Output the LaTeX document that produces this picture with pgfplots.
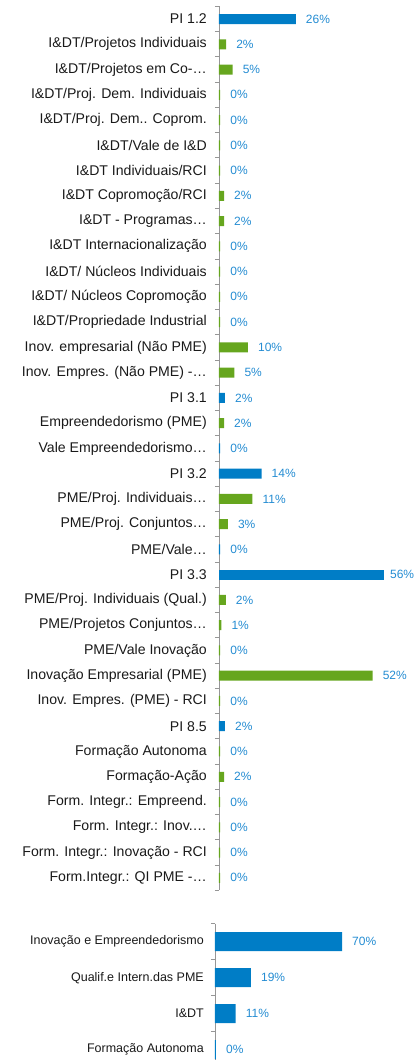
\documentclass[border=0pt]{standalone}
\usepackage{fontspec}
\setmainfont{Liberation Sans}
\usepackage{pgfplots}
\usepackage{pgfplotstable}
\pgfplotsset{compat=1.18}
\definecolor{barblue}{RGB}{0,125,198}
\definecolor{bargreen}{RGB}{102,166,30}
\definecolor{lblblue}{RGB}{36,140,210}
\definecolor{axgray}{RGB}{150,150,150}
\definecolor{txt}{RGB}{25,25,25}

\pgfplotstableread{
y x lbl
0 26 26
15 2 2
17 0.4 0
18 14.4 14
21 0.4 0
28 2 2
}\topblue

\pgfplotstableread{
y x lbl
22 56 56
}\topblueb

\pgfplotstableread{
y x lbl
1 2.4 2
2 4.6 5
3 0.4 0
4 0.4 0
5 0.4 0
6 0.4 0
7 1.7 2
8 1.7 2
9 0.4 0
10 0.4 0
11 0.4 0
12 0.4 0
13 9.8 10
14 5.2 5
16 1.7 2
19 11.3 11
20 3.0 3
23 2.3 2
24 0.8 1
25 0.4 0
26 52 52
27 0.4 0
29 0.4 0
30 1.7 2
31 0.4 0
32 0.4 0
33 0.4 0
34 0.4 0
}\topgreen

\pgfplotstableread{
y x lbl
0 70 70
1 19.8 19
2 11.4 11
3 0.5 0
}\bottomblue

\pgfplotsset{
  mychart/.style={
    anchor=north west,
    scale only axis,
    xmin=0, y dir=reverse,
    hide x axis, axis y line*=left,
    axis line style={axgray, line width=0.9pt},
    major tick length=0pt,
    minor tick length=4pt, tick align=outside,
    minor tick style={axgray, line width=0.9pt},
    yticklabel style={text=txt, inner sep=0pt, xshift=-12pt},
    xbar,
    point meta=explicit symbolic,
    nodes near coords={\pgfplotspointmeta\%},
    every node near coord/.append style={font=\fontsize{12}{14}\selectfont, text=lblblue, anchor=west, inner sep=0pt, xshift=10pt},
    clip=false,
  }
}

\begin{document}
\begin{tikzpicture}
\begin{axis}[mychart,
  at={(219pt,1054.6pt)},
  width=192pt, height=884pt,
  xmax=65, ymin=-0.5, ymax=34.5,
  ytick={0,...,34},
  minor ytick={-0.5,0.5,...,34.5},
  yticklabel style={font=\fontsize{14.1}{15}\selectfont},
  yticklabels={
    {PI 1.2},
    {I\&DT/Projetos Individuais},
    {I\&DT/Projetos em Co-…},
    {I\&DT/Proj. Dem. Individuais},
    {I\&DT/Proj. Dem.. Coprom.},
    {I\&DT/Vale de I\&D},
    {I\&DT Individuais/RCI},
    {I\&DT Copromoção/RCI},
    {I\&DT - Programas…},
    {I\&DT Internacionalização},
    {I\&DT/ Núcleos Individuais},
    {I\&DT/ Núcleos Copromoção},
    {I\&DT/Propriedade Industrial},
    {Inov. empresarial (Não PME)},
    {Inov. Empres. (Não PME) -…},
    {PI 3.1},
    {Empreendedorismo (PME)},
    {Vale Empreendedorismo…},
    {PI 3.2},
    {PME/Proj. Individuais…},
    {PME/Proj. Conjuntos…},
    {PME/Vale…},
    {PI 3.3},
    {PME/Proj. Individuais (Qual.)},
    {PME/Projetos Conjuntos…},
    {PME/Vale Inovação},
    {Inovação Empresarial (PME)},
    {Inov. Empres. (PME) - RCI},
    {PI 8.5},
    {Formação Autonoma},
    {Formação-Ação},
    {Form. Integr.: Empreend.},
    {Form. Integr.: Inov.…},
    {Form. Integr.: Inovação - RCI},
    {Form.Integr.: QI PME -…}
  },
]
\addplot[draw=none, fill=barblue, xbar, bar width=10pt, bar shift=0pt] table[x=x, y=y, meta=lbl]{\topblue};
\addplot[draw=none, fill=barblue, xbar, bar width=10pt, bar shift=0pt,
  every node near coord/.append style={xshift=-4.5pt}] table[x=x, y=y, meta=lbl]{\topblueb};
\addplot[draw=none, fill=bargreen, xbar, bar width=10pt, bar shift=0pt] table[x=x, y=y, meta=lbl]{\topgreen};
\end{axis}

\begin{axis}[mychart,
  at={(215pt,137.3pt)},
  width=181.5pt, height=136.8pt,
  xmax=100, ymin=-0.5, ymax=3.3,
  ytick={0,...,3},
  minor ytick={-0.5,0.5,...,2.5},
  yticklabel style={font=\fontsize{12.5}{14}\selectfont, xshift=1pt},
  yticklabels={
    {Inovação e Empreendedorismo},
    {Qualif.e Intern.das PME},
    {I\&DT},
    {Formação Autonoma}
  },
]
\addplot[draw=none, fill=barblue, xbar, bar width=19pt, bar shift=0pt] table[x=x, y=y, meta=lbl]{\bottomblue};
\end{axis}
\pgfresetboundingbox
\useasboundingbox (0,0) rectangle (414pt,1061pt);
\end{tikzpicture}
\end{document}
